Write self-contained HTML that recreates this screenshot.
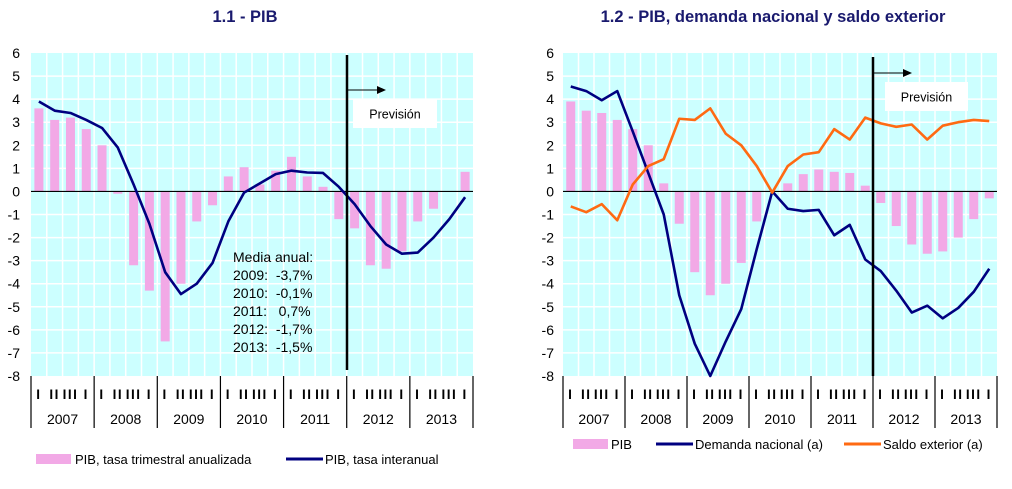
<!DOCTYPE html>
<html><head><meta charset="utf-8"><style>
body{margin:0;background:#fff;width:1012px;height:484px;overflow:hidden;font-family:"Liberation Sans",Arial,sans-serif}
svg text{font-family:"Liberation Sans",Arial,sans-serif}
.pre{white-space:pre}
</style></head><body>
<svg id="s" width="1012" height="484" xmlns="http://www.w3.org/2000/svg">
<text x="245" y="22" text-anchor="middle" font-size="16.5" font-weight="bold" fill="#1a1a6e">1.1 - PIB</text>
<text x="773" y="22" text-anchor="middle" font-size="16.5" font-weight="bold" fill="#1a1a6e">1.2 - PIB, demanda nacional y saldo exterior</text>
</svg>
<script>
const years=["2007","2008","2009","2010","2011","2012","2013"];
const quarterLabels=["I","II","III","I"];
const yTicks=[6,5,4,3,2,1,0,-1,-2,-3,-4,-5,-6,-7,-8];
const pibAnualizada=[3.6,3.1,3.2,2.7,2.0,-0.1,-3.2,-4.3,-6.5,-4.0,-1.3,-0.6,0.65,1.05,0.3,0.9,1.5,0.65,0.2,-1.2,-1.6,-3.2,-3.35,-2.6,-1.3,-0.75,0,0.85];
const pibInteranual=[3.9,3.5,3.4,3.1,2.75,1.9,0.3,-1.4,-3.5,-4.45,-4.0,-3.1,-1.3,-0.05,0.35,0.75,0.9,0.82,0.8,0.2,-0.55,-1.5,-2.3,-2.7,-2.65,-2.0,-1.2,-0.25];
const pib2=[3.9,3.5,3.4,3.1,2.7,2.0,0.35,-1.4,-3.5,-4.5,-4.0,-3.1,-1.3,0,0.35,0.75,0.95,0.85,0.8,0.25,-0.5,-1.5,-2.3,-2.7,-2.6,-2.0,-1.2,-0.3];
const demandaNacional=[4.55,4.35,3.95,4.35,2.6,0.8,-1.0,-4.5,-6.6,-8.0,-6.5,-5.1,-2.5,0.0,-0.75,-0.85,-0.8,-1.9,-1.45,-2.95,-3.45,-4.3,-5.25,-4.95,-5.5,-5.05,-4.35,-3.35];
const saldoExterior=[-0.65,-0.9,-0.55,-1.25,0.3,1.1,1.4,3.15,3.1,3.6,2.5,2.0,1.1,-0.05,1.1,1.6,1.7,2.7,2.25,3.2,2.95,2.8,2.9,2.25,2.85,3.0,3.1,3.05];
const mediaAnual=["Media anual:","2009:  -3,7%","2010:  -0,1%","2011:   0,7%","2012:  -1,7%","2013:  -1,5%"];

const NS="http://www.w3.org/2000/svg", svg=document.getElementById('s');
function el(t,a,p){const e=document.createElementNS(NS,t);for(const k in a)e.setAttribute(k,a[k]);(p||svg).appendChild(e);return e;}

function chart(pre,x0,x1,labX,bars,lines,fx,box){
  const yTop=53,yBot=376,n=28;
  const g=el('g',{});
  
  
  const ys=v=>yTop+(6-v)*(yBot-yTop)/14;
  const qw=(x1-x0)/n;
  const xs=i=>x0+(i+0.5)*qw;
  el('rect',{x:x0,y:yTop,width:x1-x0,height:yBot-yTop,fill:'#ccffff'},g);
  for(let i=1;i<n;i++)el('line',{x1:x0+i*qw,x2:x0+i*qw,y1:yTop,y2:yBot,stroke:'#fff','stroke-width':1.5},g);
  yTicks.forEach(t=>{
    if(t!==0&&t!==6&&t!==-8)el('line',{x1:x0,x2:x1,y1:ys(t),y2:ys(t),stroke:'#fff','stroke-width':1.5},g);
    const tx=el('text',{x:labX,y:ys(t)+5,'text-anchor':'end','font-size':14,fill:'#000'},g);
    tx.textContent=t;
    
    
  });
  bars.forEach((v,i)=>{
    const r=el('rect',{x:xs(i)-4.5,y:Math.min(ys(v),ys(0)),width:9,height:Math.abs(ys(v)-ys(0)),fill:'#f2a9e6'},g);
    
    
  });
  el('line',{x1:x0,x2:x1,y1:ys(0),y2:ys(0),stroke:'#000','stroke-width':1.2},g);
  lines.forEach(([data,col,nm])=>{
    const p=el('polyline',{points:data.map((v,i)=>xs(i)+','+ys(v)).join(' '),fill:'none',stroke:col,'stroke-width':2.6,'stroke-linejoin':'round'},g);
    
    
  });
  el('line',{x1:fx,x2:fx,y1:fx<500?55:57,y2:fx<500?370:376,stroke:'#000','stroke-width':2.5},g);
  const ay=fx<500?90:73;
  el('line',{x1:fx,x2:fx+30,y1:ay,y2:ay,stroke:'#000','stroke-width':1},g);
  el('polygon',{points:`${fx+30},${ay-4} ${fx+39},${ay} ${fx+30},${ay+4}`,fill:'#000'},g);
  el('rect',{x:box[0],y:box[1],width:box[2],height:box[3],fill:'#fff'},g);
  const pv=el('text',{x:box[0]+box[2]/2,y:box[1]+box[3]/2+5,'text-anchor':'middle','font-size':12.5,fill:'#000'},g);
  pv.textContent='Previsión';
  
  
  for(let y=0;y<=7;y++){const x=x0+y*4*qw;el('line',{x1:x,x2:x,y1:yBot,y2:428,stroke:'#000','stroke-width':1.2},g);}
  years.forEach((yr,k)=>{
    const t=el('text',{x:x0+(k*4+2)*qw,y:424,'text-anchor':'middle','font-size':14,fill:'#000'},g);
    t.textContent=yr;
    
    
    quarterLabels.forEach((q,j)=>{
      const tq=el('text',{x:xs(k*4+j),y:399,'text-anchor':'middle','font-size':13.5,'font-weight':'bold',fill:'#000','letter-spacing':'1.5'},g);
      tq.textContent=q;
      
      
    });
  });
}
chart('chart1',31,473,20,pibAnualizada,[[pibInteranual,'#000080','pib-interanual-line']],347,[353,99,84,29]);
chart('chart2',563,997,554,pib2,[[demandaNacional,'#000080','demanda-nacional-line'],[saldoExterior,'#ff6a12','saldo-exterior-line']],873,[885,82,83,29]);

mediaAnual.forEach((s,i)=>{
  const t=el('text',{x:233,y:262+i*18,'font-size':14,fill:'#000',class:'pre'});
  t.textContent=s;
  
  
});

function legend(x,y,type,col,label,tx,nm){
  if(type==='bar')el('rect',{x:x,y:y-5,width:35,height:10,fill:'#f2a9e6'});
  else el('line',{x1:x,x2:x+37,y1:y,y2:y,stroke:col,'stroke-width':3});
  const t=el('text',{x:tx,y:y+5,'font-size':13,fill:'#000'});
  t.textContent=label;
  
  
}
legend(36,459,'bar','','PIB, tasa trimestral anualizada',75,'legend-pib-anualizada');
legend(286,459,'line','#000080','PIB, tasa interanual',325,'legend-pib-interanual');
legend(573,444,'bar','','PIB',611,'legend-pib');
legend(656,444,'line','#000080','Demanda nacional (a)',695,'legend-demanda-nacional');
legend(844,444,'line','#ff6a12','Saldo exterior (a)',883,'legend-saldo-exterior');
</script>
</body></html>
